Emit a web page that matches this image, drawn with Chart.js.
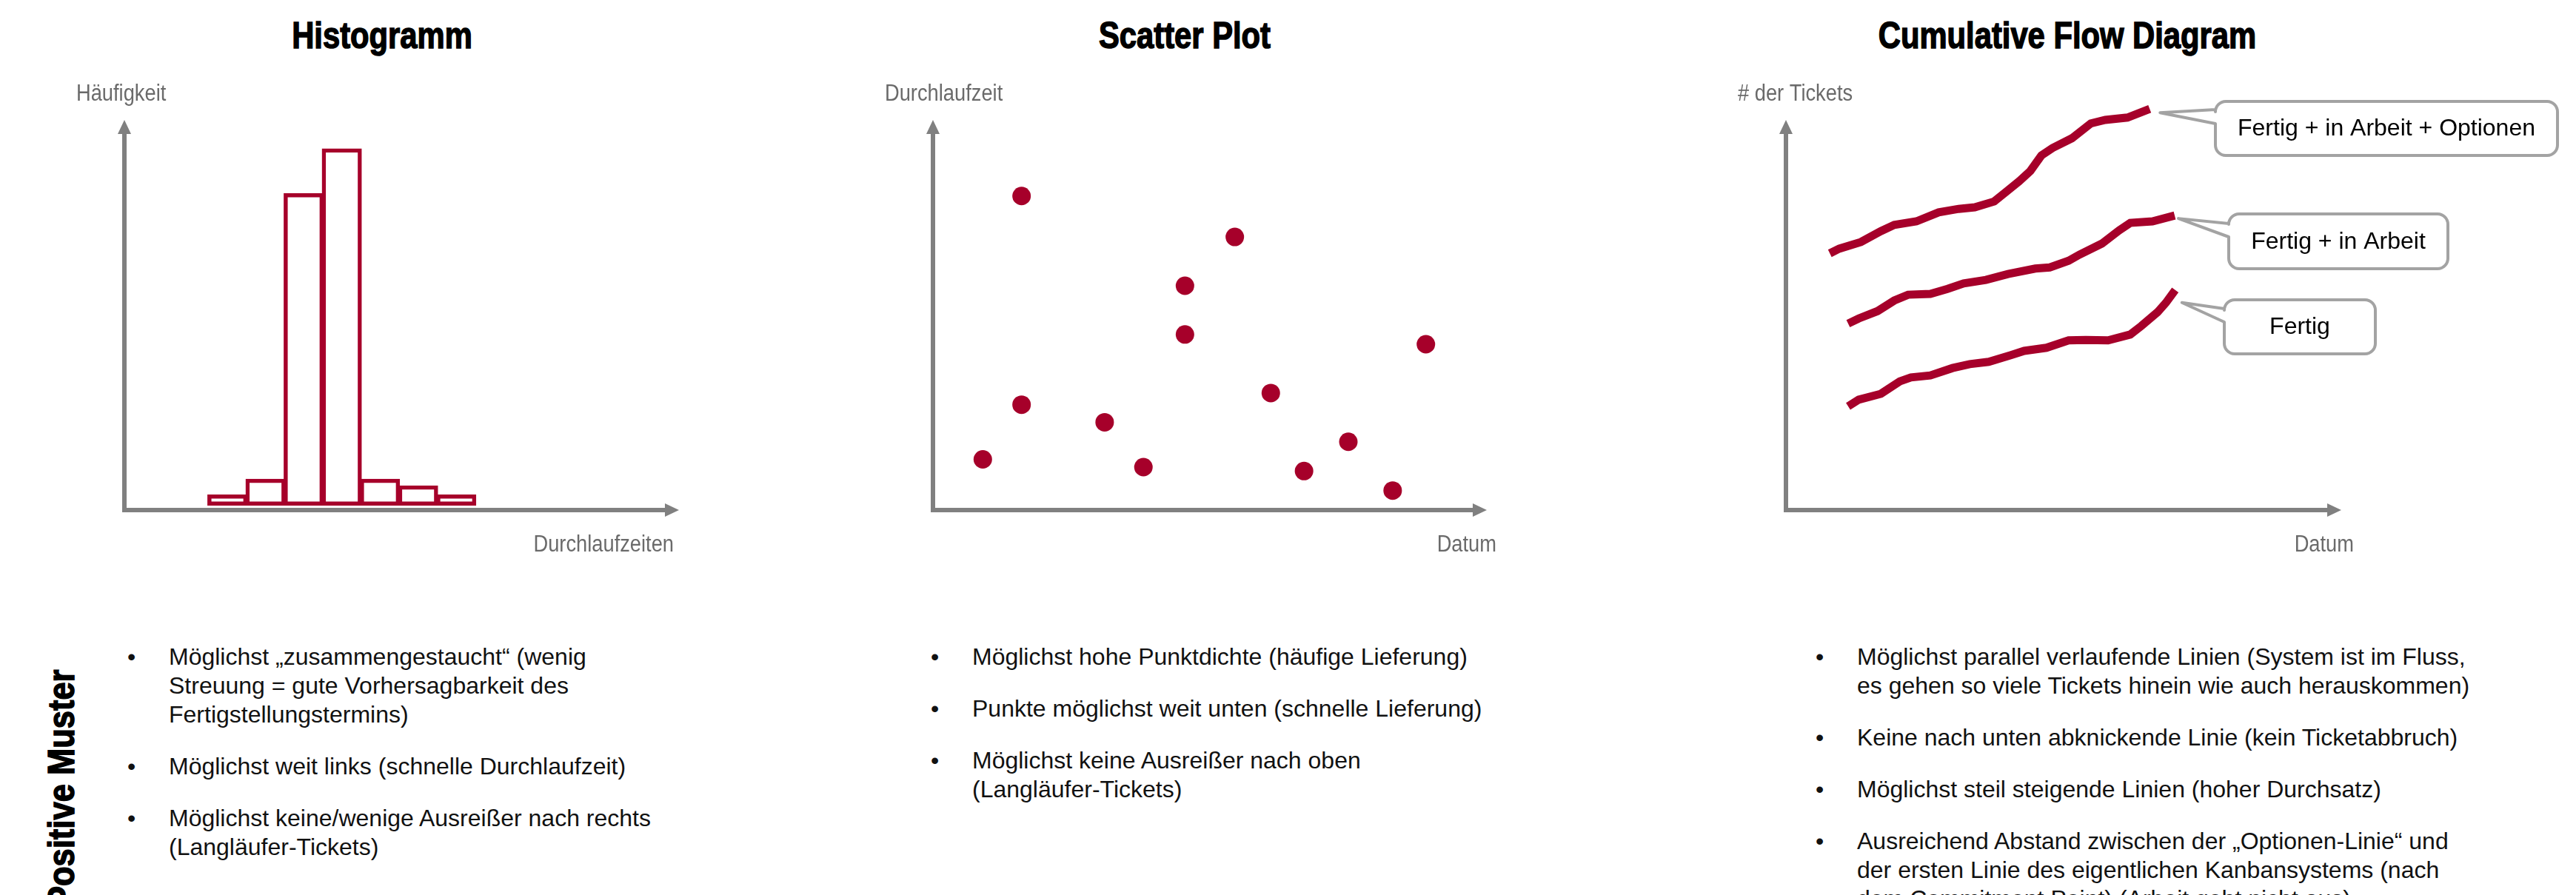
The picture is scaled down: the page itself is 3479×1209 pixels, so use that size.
<!DOCTYPE html>
<html lang="de">
<head>
<meta charset="utf-8">
<title>Positive Muster</title>
<script src="https://cdn.jsdelivr.net/npm/chart.js@4.4.1/dist/chart.umd.min.js"></script>
<style>
  html, body {
    margin: 0;
    padding: 0;
    background: #fff;
  }
  body {
    position: relative;
    width: 3479px;
    height: 1209px;
    overflow: hidden;
    font-family: 'Liberation Sans', Arial, sans-serif;
  }
  canvas {
    position: absolute;
  }
  .title {
    position: absolute;
    top: 23px;
    width: 800px;
    text-align: center;
    font-family: 'Liberation Sans', Arial, sans-serif;
    font-weight: bold;
    font-size: 50px;
    line-height: 1;
    color: #000;
    transform: scaleX(0.835);
    -webkit-text-stroke: 1.5px #000;
  }
  .side-title {
    position: absolute;
    left: 58px;
    top: 1226px;
    transform-origin: left top;
    transform: rotate(-90deg) scaleX(0.87);
    font-family: 'Liberation Sans', Arial, sans-serif;
    font-weight: bold;
    font-size: 50px;
    line-height: 1;
    white-space: nowrap;
    -webkit-text-stroke: 1.5px #000;
  }
  .bullets {
    position: absolute;
    top: 868px;
    font-size: 32px;
    line-height: 39px;
    color: #111;
    white-space: nowrap;
  }
  .bullets div {
    position: relative;
    padding-left: 56px;
    margin-bottom: 31px;
  }
  .bullets div::before {
    content: '\2022';
    position: absolute;
    left: 0;
    top: 0;
  }
</style>
</head>
<body>

<div class="title" style="left: 116px;">Histogramm</div>
<div class="title" style="left: 1200px;">Scatter Plot</div>
<div class="title" style="left: 2392px;">Cumulative Flow Diagram</div>

<canvas id="histChart" width="900" height="680" style="left: 100px; top: 100px;"></canvas>
<canvas id="scatterChart" width="900" height="680" style="left: 1190px; top: 100px;"></canvas>
<canvas id="cfdChart" width="1139" height="680" style="left: 2340px; top: 100px;"></canvas>

<div class="side-title">Positive Muster</div>

<div class="bullets" style="left: 172px;">
  <div>Möglichst „zusammengestaucht“ (wenig<br>Streuung = gute Vorhersagbarkeit des<br>Fertigstellungstermins)</div>
  <div>Möglichst weit links (schnelle Durchlaufzeit)</div>
  <div>Möglichst keine/wenige Ausreißer nach rechts<br>(Langläufer-Tickets)</div>
</div>

<div class="bullets" style="left: 1257px;">
  <div>Möglichst hohe Punktdichte (häufige Lieferung)</div>
  <div>Punkte möglichst weit unten (schnelle Lieferung)</div>
  <div>Möglichst keine Ausreißer nach oben<br>(Langläufer-Tickets)</div>
</div>

<div class="bullets" style="left: 2452px;">
  <div>Möglichst parallel verlaufende Linien (System ist im Fluss,<br>es gehen so viele Tickets hinein wie auch herauskommen)</div>
  <div>Keine nach unten abknickende Linie (kein Ticketabbruch)</div>
  <div>Möglichst steil steigende Linien (hoher Durchsatz)</div>
  <div>Ausreichend Abstand zwischen der „Optionen-Linie“ und<br>der ersten Linie des eigentlichen Kanbansystems (nach<br>dem Commitment Point) (Arbeit geht nicht aus)</div>
</div>

<script>
// Histogramm: Durchlaufzeit-Klassen und Häufigkeiten
const histBins = [3, 4, 5, 6, 7, 8, 9];
const histCounts = [1.25, 3, 35, 40, 3, 2.25, 1.25];

// Scatter Plot: Datum / Durchlaufzeit je Ticket
const scatterDatum = [9, 16, 16, 31, 38, 45.5, 45.5, 54.5, 61, 67, 75, 83, 89];
const scatterDurchlaufzeit = [13, 80.5, 27, 22.5, 11, 57.5, 45, 70, 30, 10, 17.5, 5, 42.5];

// Cumulative Flow Diagram: drei Linien (Datum, # der Tickets)
const cfdLabels = ['Fertig + in Arbeit + Optionen', 'Fertig + in Arbeit', 'Fertig'];
const cfdOptionenX = [7.9, 9.6, 13.5, 17.1, 19.5, 23.5, 27.5, 31.1, 34.0, 37.5, 39.5, 42.0, 44.0, 46.0, 48.0, 51.5, 54.9, 57.5, 61.5, 65.5];
const cfdOptionenY = [65.8, 67.0, 68.7, 71.5, 73.1, 74.0, 76.3, 77.2, 77.6, 79.1, 81.4, 84.3, 86.9, 90.9, 92.8, 95.3, 99.1, 100, 100.6, 102.8];
const cfdArbeitX = [11.2, 13.1, 16.5, 19.5, 22.0, 26.0, 29.1, 32.0, 36.0, 40.0, 44.9, 47.5, 50.9, 52.9, 56.9, 60.0, 62.0, 66.0, 70.0];
const cfdArbeitY = [47.8, 49.1, 51.0, 53.7, 55.2, 55.4, 56.7, 58.1, 59.0, 60.5, 61.9, 62.2, 63.9, 65.5, 68.3, 71.7, 73.6, 74.0, 75.5];
const cfdFertigX = [11.2, 13.1, 17.1, 20.5, 22.5, 26.0, 30.0, 33.1, 36.5, 40.5, 42.9, 46.9, 50.9, 54.0, 58.0, 62.0, 64.0, 66.9, 68.4, 70.1];
const cfdFertigY = [26.6, 28.3, 29.8, 33.0, 34.0, 34.5, 36.4, 37.4, 38.0, 39.7, 40.8, 41.6, 43.5, 43.6, 43.5, 45.0, 47.2, 50.7, 53.1, 56.4];

const RED = '#a6002a';
const AXIS_GRAY = '#808080';

function toPoints(xs, ys) {
    return xs.map((x, i) => ({ x: x, y: ys[i] }));
}

// narrow handwritten-ish label, squeezed horizontally
function drawLabel(ctx, text, x, y, align) {
    const squeeze = 0.88;
    ctx.save();
    ctx.font = "31px 'Liberation Sans', Arial, sans-serif";
    ctx.fillStyle = '#6a6a6a';
    ctx.textBaseline = 'alphabetic';
    ctx.textAlign = align;
    ctx.translate(x, y);
    ctx.scale(squeeze, 1);
    ctx.fillText(text, 0, 0);
    ctx.restore();
}

// Draws the sketch axes with arrow heads and the axis titles
const sketchAxes = {
    id: 'sketchAxes',
    beforeDatasetsDraw(chart, args, opts) {
        const { ctx, chartArea } = chart;
        const { left, right, top, bottom } = chartArea;
        ctx.save();
        ctx.strokeStyle = AXIS_GRAY;
        ctx.fillStyle = AXIS_GRAY;
        ctx.lineWidth = 6;
        ctx.lineCap = 'butt';

        ctx.beginPath();
        ctx.moveTo(left, bottom + 3);
        ctx.lineTo(left, top + 16);
        ctx.moveTo(left - 3, bottom);
        ctx.lineTo(right - 16, bottom);
        ctx.stroke();

        ctx.beginPath();
        ctx.moveTo(left, top);
        ctx.lineTo(left - 9, top + 19);
        ctx.lineTo(left + 9, top + 19);
        ctx.closePath();
        ctx.moveTo(right, bottom);
        ctx.lineTo(right - 19, bottom - 9);
        ctx.lineTo(right - 19, bottom + 9);
        ctx.closePath();
        ctx.fill();
        ctx.restore();

        drawLabel(ctx, opts.yTitle, left - 65, top - 26, 'left');
        drawLabel(ctx, opts.xTitle, right + opts.xTitleDx, bottom + 56, 'right');
    }
};

// Speech-bubble labels pointing at the end of each CFD line
const calloutLabels = {
    id: 'calloutLabels',
    afterDatasetsDraw(chart, args, opts) {
        const ctx = chart.ctx;
        opts.boxes.forEach((box, i) => {
            const meta = chart.getDatasetMeta(i);
            const last = meta.data[meta.data.length - 1];
            const tipX = last.x + box.tip[0];
            const tipY = last.y + box.tip[1];
            const { x, y, w, h } = box;
            const r = 14;

            ctx.save();
            ctx.beginPath();
            ctx.moveTo(x + r, y);
            ctx.lineTo(x + w - r, y);
            ctx.arcTo(x + w, y, x + w, y + r, r);
            ctx.lineTo(x + w, y + h - r);
            ctx.arcTo(x + w, y + h, x + w - r, y + h, r);
            ctx.lineTo(x + r, y + h);
            ctx.arcTo(x, y + h, x, y + h - r, r);
            ctx.lineTo(x, box.baseBot);
            ctx.lineTo(tipX, tipY);
            ctx.lineTo(x, box.baseTop);
            ctx.lineTo(x, y + r);
            ctx.arcTo(x, y, x + r, y, r);
            ctx.closePath();
            ctx.fillStyle = '#fff';
            ctx.fill();
            ctx.strokeStyle = '#a3a3a3';
            ctx.lineWidth = 4;
            ctx.lineJoin = 'round';
            ctx.stroke();

            ctx.fillStyle = '#000';
            ctx.font = "32px 'Liberation Sans', Arial, sans-serif";
            ctx.textAlign = 'center';
            ctx.textBaseline = 'middle';
            ctx.fillText(chart.data.datasets[i].label, x + w / 2, y + h / 2 + 1);
            ctx.restore();
        });
    }
};

function hiddenScale(min, max) {
    return { type: 'linear', display: false, min: min, max: max, offset: false, ticks: { stepSize: 5 } };
}

function baseOptions(padding, xTitle, yTitle, xTitleDx) {
    return {
        responsive: false,
        animation: false,
        layout: { padding: padding },
        plugins: {
            legend: { display: false },
            tooltip: { enabled: false },
            sketchAxes: { xTitle: xTitle, yTitle: yTitle, xTitleDx: xTitleDx }
        }
    };
}

function initializeHistogram() {
    const options = baseOptions({ left: 68, top: 62, right: 83, bottom: 91 }, 'Durchlaufzeiten', 'Häufigkeit', -7);
    options.scales = {
        x: hiddenScale(0.3, 14.84),
        y: hiddenScale(-0.5, 43.2)
    };
    new Chart(document.getElementById('histChart'), {
        type: 'bar',
        data: {
            datasets: [{
                label: 'Häufigkeit',
                data: toPoints(histBins, histCounts),
                backgroundColor: 'rgba(255,255,255,0)',
                borderColor: RED,
                borderWidth: 5.5,
                borderSkipped: false,
                categoryPercentage: 1,
                barPercentage: 1.05
            }]
        },
        options: options,
        plugins: [sketchAxes]
    });
}

function initializeScatter() {
    const options = baseOptions({ left: 70, top: 62, right: 82, bottom: 91 }, 'Datum', 'Durchlaufzeit', 13);
    options.scales = {
        x: hiddenScale(0, 100),
        y: hiddenScale(0, 100)
    };
    new Chart(document.getElementById('scatterChart'), {
        type: 'scatter',
        data: {
            datasets: [{
                label: 'Durchlaufzeit',
                data: toPoints(scatterDatum, scatterDurchlaufzeit),
                backgroundColor: RED,
                borderWidth: 0,
                pointRadius: 12.5
            }]
        },
        options: options,
        plugins: [sketchAxes]
    });
}

function initializeCfd() {
    const options = baseOptions({ left: 72, top: 62, right: 317, bottom: 91 }, 'Datum', '# der Tickets', 17);
    options.scales = {
        x: hiddenScale(0, 100),
        y: hiddenScale(0, 100)
    };
    options.plugins.calloutLabels = {
        boxes: [
            { x: 652, y: 37, w: 462, h: 73, baseTop: 48, baseBot: 67, tip: [14, 5] },
            { x: 670, y: 189, w: 296, h: 74, baseTop: 202, baseBot: 220, tip: [5, 4] },
            { x: 664, y: 305, w: 204, h: 73, baseTop: 317, baseBot: 335, tip: [9, 17] }
        ]
    };
    const series = [
        toPoints(cfdOptionenX, cfdOptionenY),
        toPoints(cfdArbeitX, cfdArbeitY),
        toPoints(cfdFertigX, cfdFertigY)
    ];
    new Chart(document.getElementById('cfdChart'), {
        type: 'line',
        data: {
            datasets: series.map((points, i) => ({
                label: cfdLabels[i],
                data: points,
                borderColor: RED,
                borderWidth: 11,
                borderCapStyle: 'butt',
                pointRadius: 0,
                tension: 0,
                fill: false,
                clip: false
            }))
        },
        options: options,
        plugins: [sketchAxes, calloutLabels]
    });
}

initializeHistogram();
initializeScatter();
initializeCfd();
</script>
</body>
</html>
